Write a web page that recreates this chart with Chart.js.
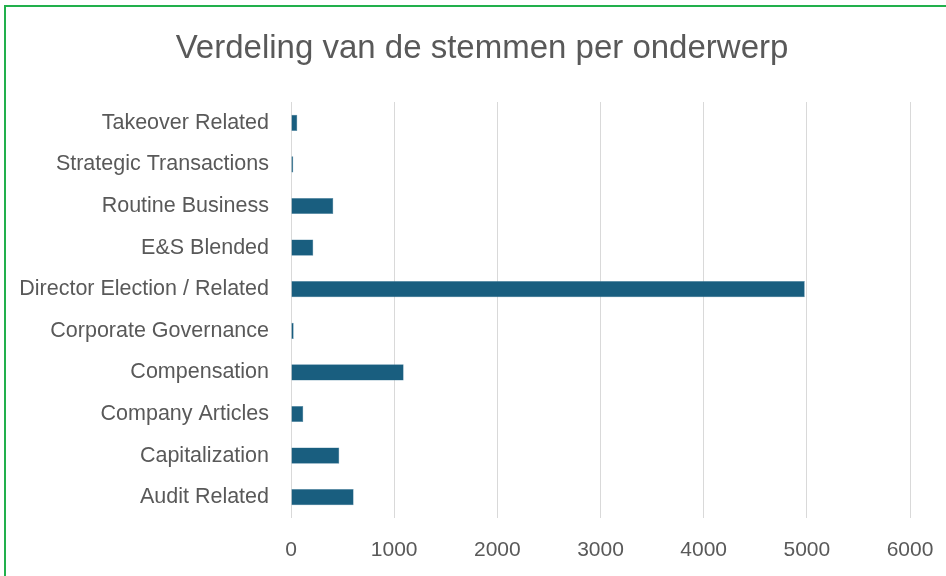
<!DOCTYPE html>
<html>
<head>
<meta charset="utf-8">
<script src="https://cdn.jsdelivr.net/npm/chart.js@4.4.1/dist/chart.umd.min.js"></script>
<style>
  html, body { margin: 0; padding: 0; background: #fff; overflow: hidden; }
  #wrap { position: absolute; left: 0; top: 0; width: 964px; height: 576px; }
  #frame { position: absolute; left: 4px; top: 5px; width: 960px; height: 600px; border: 2px solid #22b04c; box-sizing: border-box; pointer-events: none; }
</style>
</head>
<body>
<div id="wrap"><canvas id="chart" width="964" height="576"></canvas></div>
<div id="frame"></div>
<script>
// ---- Data (Excel order: first category at the bottom) ----
const categories = ['Audit Related', 'Capitalization', 'Company Articles', 'Compensation', 'Corporate Governance',
  'Director Election / Related', 'E&S Blended', 'Routine Business', 'Strategic Transactions', 'Takeover Related'];
const votes = [607, 468, 119, 1092, 26, 4980, 216, 410, 22, 61];
const xTicks = [0, 1000, 2000, 3000, 4000, 5000, 6000];

const fontFamily = "'Liberation Sans', Arial, sans-serif";
const textColor = '#595959';

// canvas is 964 wide (18px hidden past the window) so the title centres at x=482
new Chart(document.getElementById('chart'), {
  type: 'bar',
  data: {
    labels: categories,
    datasets: [{
      label: 'Stemmen',
      data: votes,
      backgroundColor: '#195e7f',
      borderColor: '#4f86a3', borderWidth: 0.5,
      categoryPercentage: 1, barPercentage: 0.39
    }]
  },
  options: {
    indexAxis: 'y',
    responsive: false, animation: false,
    layout: { padding: 0 },
    plugins: {
      legend: { display: false },
      tooltip: { enabled: false },
      title: {
        display: true, text: 'Verdeling van de stemmen per onderwerp',
        color: textColor, font: { family: fontFamily, size: 33, weight: 'normal', lineHeight: 1.2 },
        padding: { top: 29, bottom: 33.4 }
      }
    },
    scales: {
      x: {
        min: 0, max: 6000,
        afterBuildTicks: s => { s.ticks = xTicks.map(v => ({ value: v })); },
        afterFit: s => { s.height = 58; s.paddingRight = 54; s.paddingLeft = 0; },
        ticks: { color: textColor, font: { family: fontFamily, size: 21 }, padding: 20, callback: v => String(v) },
        grid: { color: '#d9d9d9', lineWidth: 1, drawTicks: false },
        border: { display: false }
      },
      y: {
        reverse: true,
        afterFit: s => { s.width = 291; s.paddingTop = 0; s.paddingBottom = 0; },
        ticks: { color: textColor, font: { family: fontFamily, size: 21.5 }, padding: 22 },
        grid: { display: false, drawTicks: false },
        border: { display: false }
      }
    }
  }
});
</script>
</body>
</html>
